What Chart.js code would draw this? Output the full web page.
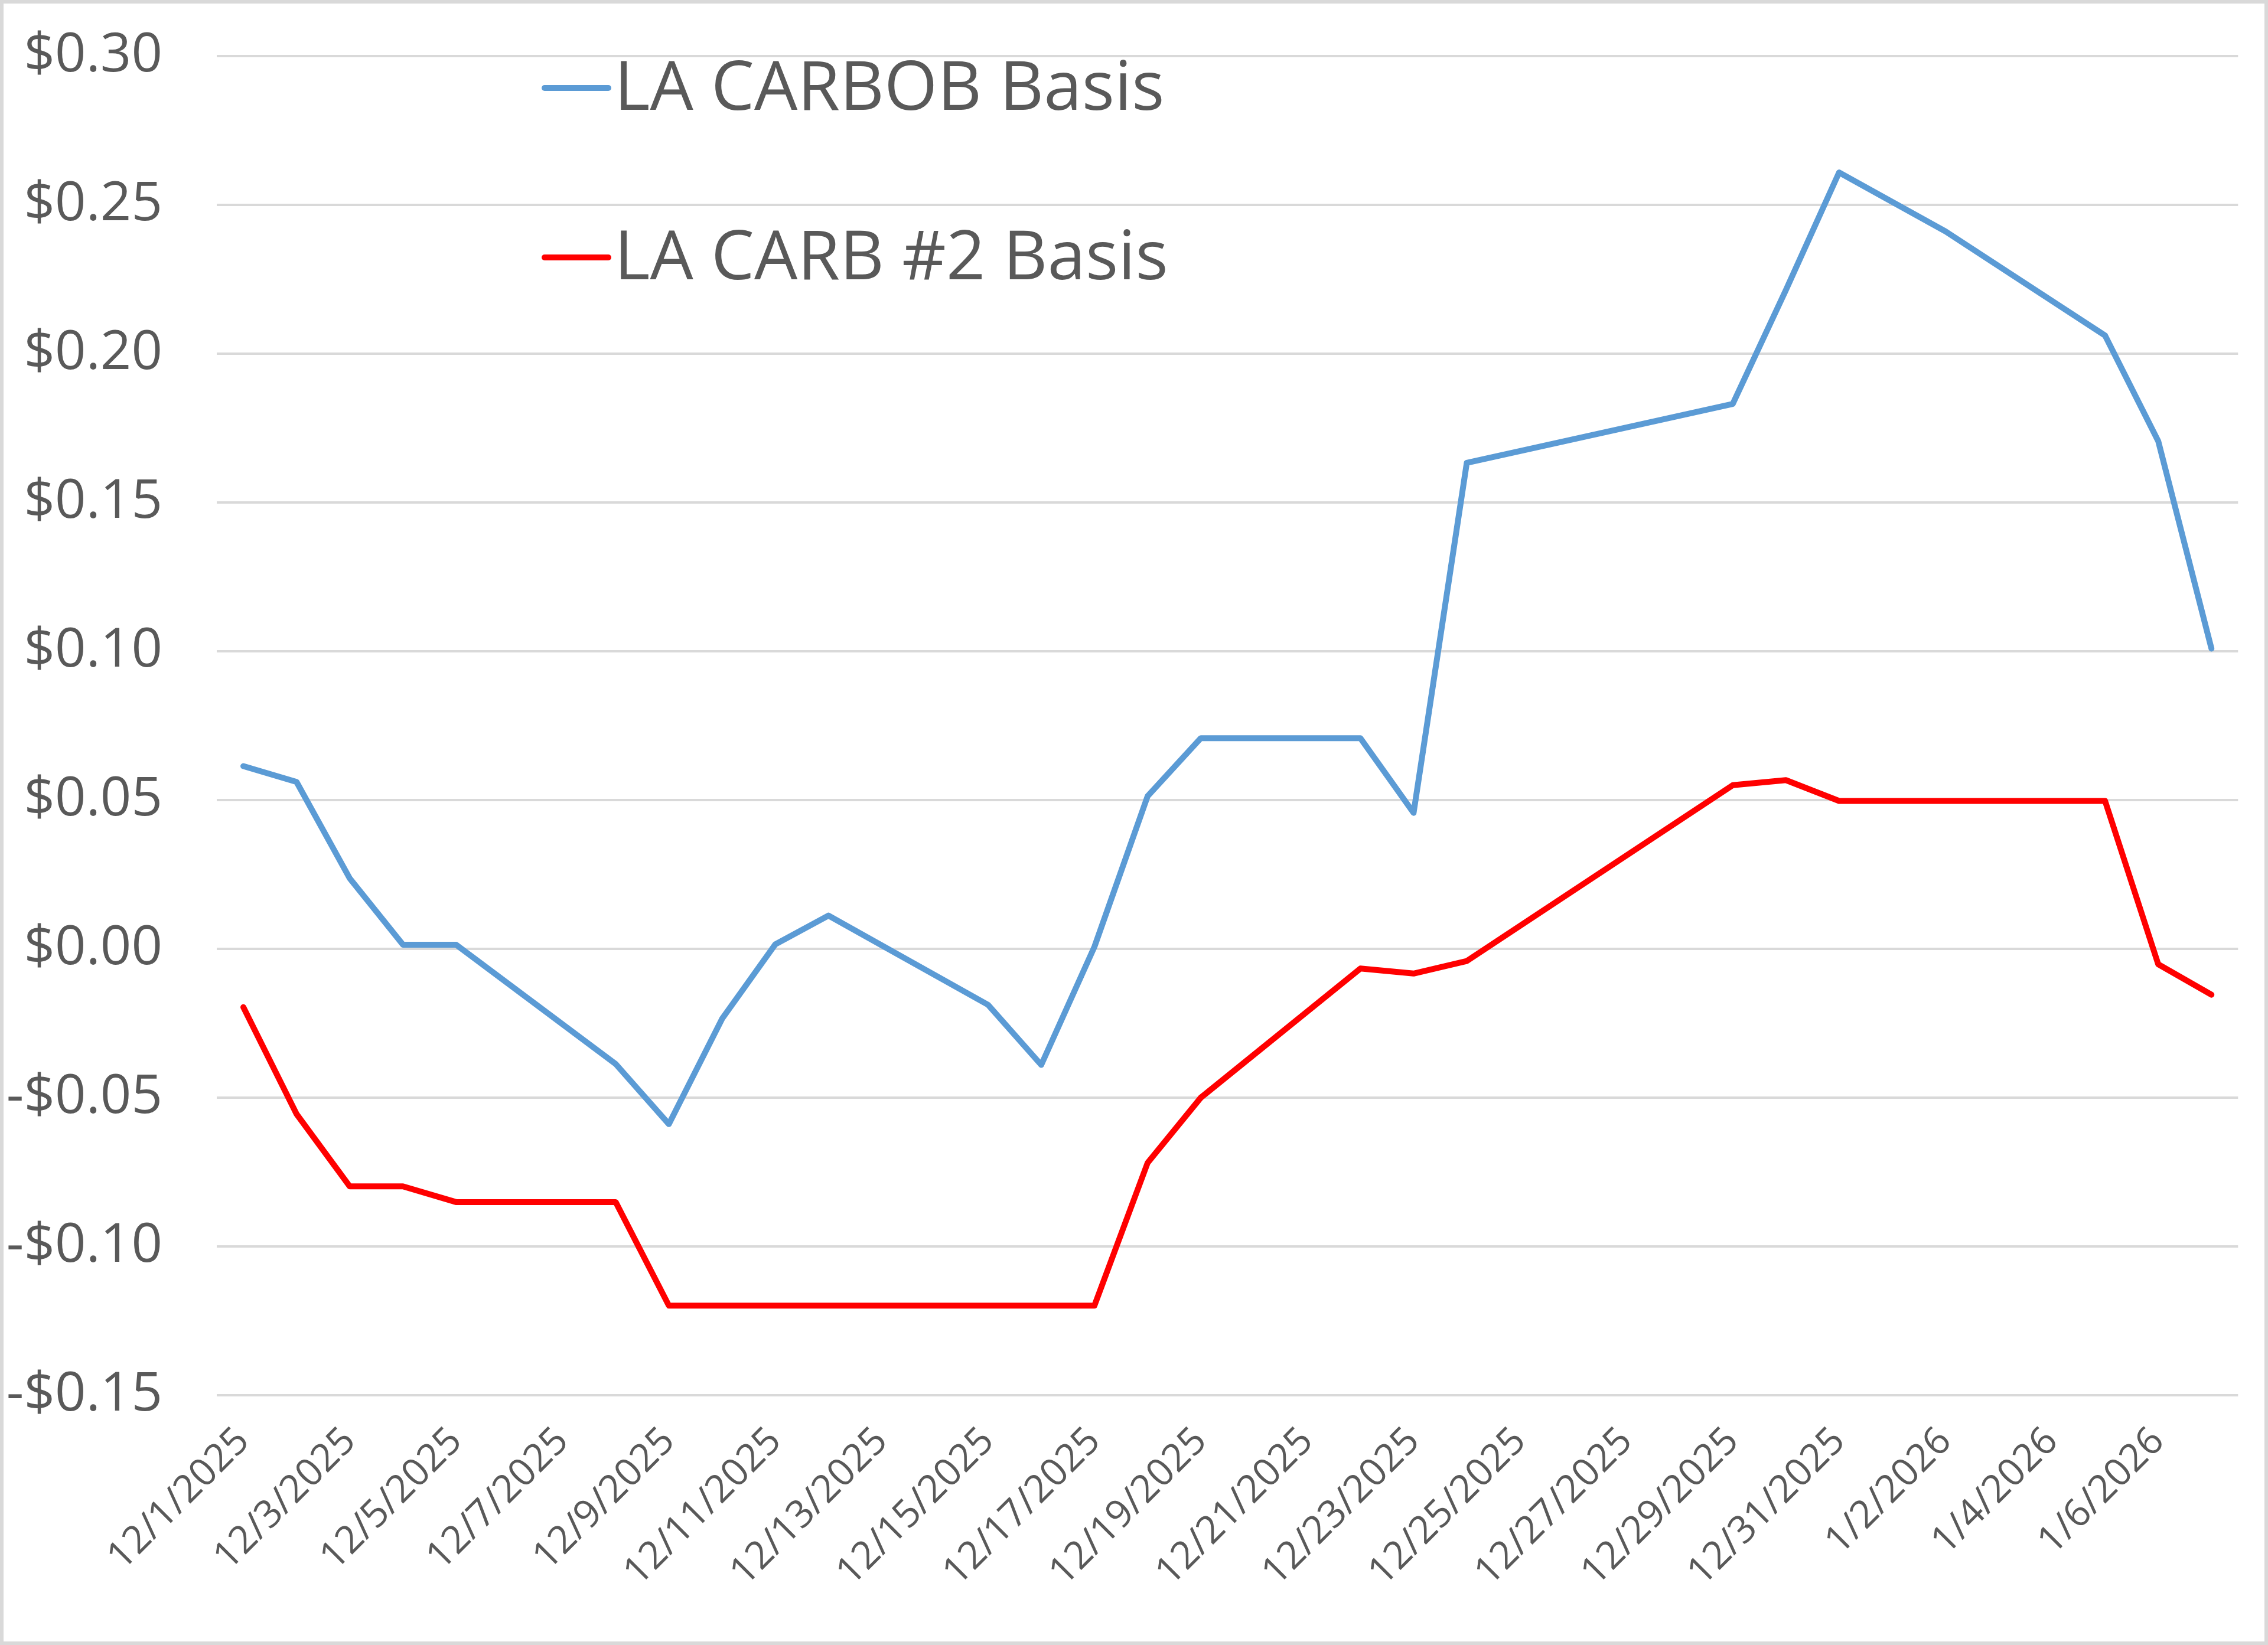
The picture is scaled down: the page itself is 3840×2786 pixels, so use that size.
<!DOCTYPE html>
<html>
<head>
<meta charset="utf-8">
<script src="https://cdn.jsdelivr.net/npm/chart.js@4.4.1/dist/chart.umd.min.js"></script>
<style>
html,body{margin:0;padding:0;background:#fff;overflow:hidden}
canvas{display:block}
</style>
</head>
<body>
<canvas id="c" width="3840" height="2786"></canvas>
<script>
// All calendar days on the date axis
const categories = [
  '12/1/2025','12/2/2025','12/3/2025','12/4/2025','12/5/2025','12/6/2025','12/7/2025',
  '12/8/2025','12/9/2025','12/10/2025','12/11/2025','12/12/2025','12/13/2025','12/14/2025',
  '12/15/2025','12/16/2025','12/17/2025','12/18/2025','12/19/2025','12/20/2025','12/21/2025',
  '12/22/2025','12/23/2025','12/24/2025','12/25/2025','12/26/2025','12/27/2025','12/28/2025',
  '12/29/2025','12/30/2025','12/31/2025','1/1/2026','1/2/2026','1/3/2026','1/4/2026',
  '1/5/2026','1/6/2026','1/7/2026'
];
// Trading days with observations
const dataDates = [
  '12/1/2025','12/2/2025','12/3/2025','12/4/2025','12/5/2025',
  '12/8/2025','12/9/2025','12/10/2025','12/11/2025','12/12/2025',
  '12/15/2025','12/16/2025','12/17/2025','12/18/2025','12/19/2025',
  '12/22/2025','12/23/2025','12/24/2025',
  '12/29/2025','12/30/2025','12/31/2025','1/2/2026',
  '1/5/2026','1/6/2026','1/7/2026'
];
const carbobBasis = [
  0.0614, 0.0561, 0.0237, 0.0014, 0.0014,
  -0.0387, -0.0589, -0.0235, 0.0015, 0.0112,
  -0.0188, -0.0390, 0.0007, 0.0513, 0.0708,
  0.0708, 0.0457, 0.1633,
  0.1831, 0.2214, 0.2609, 0.2411,
  0.2061, 0.1706, 0.1009
];
const carb2Basis = [
  -0.0196, -0.0555, -0.0798, -0.0798, -0.0851,
  -0.0851, -0.1199, -0.1199, -0.1199, -0.1199,
  -0.1199, -0.1199, -0.1199, -0.0719, -0.0500,
  -0.0066, -0.0083, -0.0041,
  0.0550, 0.0567, 0.0497, 0.0497,
  0.0497, -0.0052, -0.0154
];
const seriesNames = ['LA CARBOB Basis', 'LA CARB #2 Basis'];
const seriesColors = ['#5B9BD5', '#FF0000'];
const yMin = -0.15, yMax = 0.30, yStep = 0.05;

function onAxis(values) {
  return categories.map(d => {
    const i = dataDates.indexOf(d);
    return i < 0 ? null : values[i];
  });
}
function money(v) {
  const r = Math.round(v * 100) / 100;
  const s = '$' + Math.abs(r).toFixed(2);
  return r < 0 ? '-' + s : s;
}

const TEXT = '#595959';
const FONT = "'Open Sans', 'Noto Sans', sans-serif";

const frame = {
  id: 'frame',
  beforeDraw(chart) {
    const ctx = chart.ctx;
    ctx.save();
    ctx.fillStyle = '#ffffff';
    ctx.fillRect(0, 0, chart.width, chart.height);
    ctx.restore();
  },
  afterDraw(chart) {
    const ctx = chart.ctx;
    ctx.save();
    ctx.strokeStyle = '#D9D9D9';
    ctx.lineWidth = 6;
    ctx.strokeRect(3, 3, chart.width - 6, chart.height - 6);
    ctx.restore();
  }
};

const insideLegend = {
  id: 'insideLegend',
  afterDraw(chart) {
    const ctx = chart.ctx;
    const rows = [149, 436];
    ctx.save();
    chart.data.datasets.forEach((ds, i) => {
      const y = rows[i];
      ctx.strokeStyle = ds.borderColor;
      ctx.lineWidth = 10;
      ctx.lineCap = 'round';
      ctx.beginPath();
      ctx.moveTo(922, y);
      ctx.lineTo(1030, y);
      ctx.stroke();
      ctx.fillStyle = TEXT;
      ctx.font = '116px ' + FONT;
      ctx.textAlign = 'left';
      ctx.textBaseline = 'middle';
      ctx.fillText(ds.label, 1040, y + 4);
    });
    ctx.restore();
  }
};

new Chart(document.getElementById('c'), {
  type: 'line',
  data: {
    labels: categories,
    datasets: [
      { label: seriesNames[0], data: onAxis(carbobBasis), borderColor: seriesColors[0] },
      { label: seriesNames[1], data: onAxis(carb2Basis), borderColor: seriesColors[1] }
    ]
  },
  options: {
    responsive: false,
    animation: false,
    devicePixelRatio: 1,
    spanGaps: true,
    layout: { padding: { top: 95, right: 44, left: 0, bottom: 0 } },
    elements: {
      line: { borderWidth: 10, tension: 0, borderJoinStyle: 'round', borderCapStyle: 'round', fill: false },
      point: { radius: 0, hoverRadius: 0 }
    },
    plugins: { legend: { display: false }, tooltip: { enabled: false } },
    scales: {
      x: {
        type: 'category',
        offset: true,
        grid: { display: false, drawTicks: false },
        border: { display: false },
        afterFit(scale) { scale.height = 423; },
        ticks: {
          autoSkip: false,
          minRotation: 45,
          maxRotation: 45,
          padding: 40,
          color: TEXT,
          font: { family: FONT, size: 65 },
          callback(v, i) { return i % 2 === 0 ? categories[i] : ''; }
        }
      },
      y: {
        min: yMin,
        max: yMax,
        grid: { color: '#D9D9D9', lineWidth: 4, drawTicks: false },
        border: { display: false },
        afterFit(scale) {
          scale.width = 367;
          scale.paddingTop = 0;
          scale.paddingBottom = 0;
        },
        ticks: {
          stepSize: yStep,
          padding: 92,
          color: TEXT,
          font: { family: FONT, size: 92 },
          callback(v) { return money(v); }
        }
      }
    }
  },
  plugins: [frame, insideLegend]
});
</script>
</body>
